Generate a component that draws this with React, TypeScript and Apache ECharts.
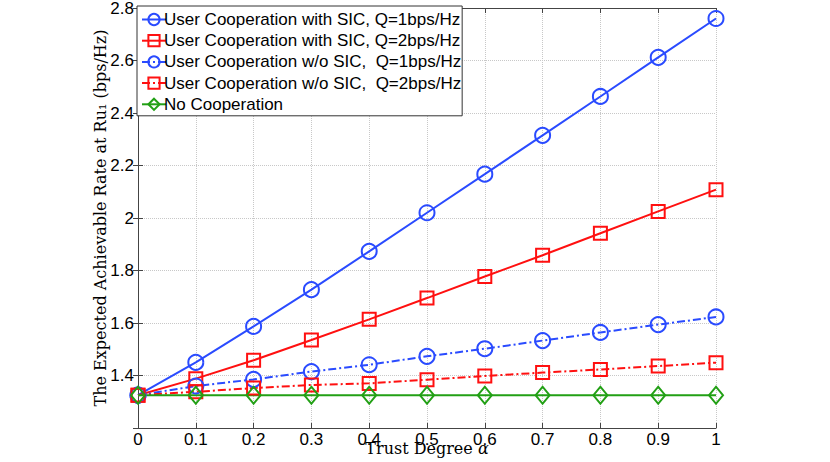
import React, { useEffect, useRef } from "react";
import * as echarts from "echarts";

const alphas = [0, 0.1, 0.2, 0.3, 0.4, 0.5, 0.6, 0.7, 0.8, 0.9, 1];
const sicQ1 = [1.325, 1.45, 1.587, 1.727, 1.873, 2.02, 2.167, 2.315, 2.463, 2.612, 2.76];
const sicQ2 = [1.325, 1.388, 1.458, 1.535, 1.614, 1.695, 1.777, 1.858, 1.942, 2.025, 2.108];
const noSicQ1 = [1.325, 1.36, 1.385, 1.415, 1.441, 1.473, 1.502, 1.533, 1.564, 1.594, 1.623];
const noSicQ2 = [1.325, 1.338, 1.352, 1.364, 1.37, 1.384, 1.398, 1.411, 1.423, 1.436, 1.449];
const noCoop = [1.325, 1.325, 1.325, 1.325, 1.325, 1.325, 1.325, 1.325, 1.325, 1.325, 1.325];

const names = [
  "User Cooperation with SIC, Q=1bps/Hz",
  "User Cooperation with SIC, Q=2bps/Hz",
  "User Cooperation w/o SIC,  Q=1bps/Hz",
  "User Cooperation w/o SIC,  Q=2bps/Hz",
  "No Cooperation",
];

const BLUE = "#2a4bff";
const RED = "#ff1010";
const GREEN = "#22a015";

export default function App() {
  const ref = useRef<HTMLDivElement>(null);
  useEffect(() => {
    if (!ref.current) return;
    const chart = echarts.init(ref.current, undefined, { renderer: "svg" });
    const pts = (ys: number[]) => alphas.map((a, i) => [a, ys[i]]);
    const dashDot = [8, 3, 2, 3];
    const mk = (name: string, ys: number[], color: string, symbol: string, size: number | number[], dashed: boolean) => ({
      name,
      type: "line",
      data: pts(ys),
      symbol,
      symbolSize: size,
      showAllSymbol: true,
      lineStyle: { color, width: 2, type: dashed ? dashDot : "solid" },
      itemStyle: { color: "rgba(0,0,0,0)", borderColor: color, borderWidth: 2 },
      emphasis: { disabled: true },
    });
    const axisLineStyle = { color: "#444", width: 1 };
    chart.setOption({
      animation: false,
      grid: { left: 138, right: 114, top: 8, bottom: 34, containLabel: false, outerBoundsMode: "none" },
      legend: {
        orient: "vertical",
        left: 137,
        top: 6,
        backgroundColor: "#fff",
        borderColor: "#333",
        borderWidth: 1,
        borderRadius: 0,
        padding: [5, 1, 3, 4],
        itemWidth: 24,
        itemHeight: 14,
        itemGap: 4.2,
        textStyle: { fontFamily: "Liberation Sans", fontSize: 17, lineHeight: 14, color: "#000", padding: [0, 0, 0, -7] },
        data: names,
      },
      xAxis: [
        {
          type: "value",
          min: 0,
          max: 1,
          interval: 0.1,
          name: "{t|Trust Degree }{a|α}",
          nameLocation: "middle",
          nameGap: 12,
          nameMoveOverlap: false,
          nameTextStyle: {
            rich: {
              t: { fontFamily: "DejaVu Serif", fontSize: 16, color: "#000" },
              a: { fontFamily: "DejaVu Serif", fontSize: 16, fontStyle: "italic", color: "#000" },
            },
          },
          axisLine: { lineStyle: axisLineStyle },
          axisTick: { inside: true, length: 5, lineStyle: axisLineStyle },
          axisLabel: { fontFamily: "Liberation Sans", fontSize: 17, color: "#000", margin: 3 },
          splitLine: { show: true, lineStyle: { type: "dotted", color: "#c8c8c8" } },
        },
        {
          type: "value",
          position: "top",
          min: 0,
          max: 1,
          interval: 0.1,
          axisLine: { show: true, lineStyle: axisLineStyle },
          axisTick: { show: true, inside: true, length: 5, lineStyle: axisLineStyle },
          axisLabel: { show: false },
          splitLine: { show: false },
        },
      ],
      yAxis: [
        {
          type: "value",
          min: 1.2,
          max: 2.8,
          interval: 0.2,
          name: "The Expected Achievable Rate at Ru₁ (bps/Hz)",
          nameLocation: "middle",
          nameGap: 30,
          nameMoveOverlap: false,
          nameTextStyle: { fontFamily: "DejaVu Serif", fontSize: 16, color: "#000" },
          axisLine: { lineStyle: axisLineStyle },
          axisTick: { inside: true, length: 5, lineStyle: axisLineStyle },
          axisLabel: {
            fontFamily: "Liberation Sans",
            fontSize: 17,
            lineHeight: 16,
            color: "#000",
            margin: 4,
            formatter: (v: number) => (Math.abs(v - 1.2) < 1e-9 ? "" : String(Math.round(v * 10) / 10)),
          },
          splitLine: { show: true, lineStyle: { type: "dotted", color: "#c8c8c8" } },
        },
        {
          type: "value",
          position: "right",
          min: 1.2,
          max: 2.8,
          interval: 0.2,
          axisLine: { show: true, lineStyle: axisLineStyle },
          axisTick: { show: true, inside: true, length: 5, lineStyle: axisLineStyle },
          axisLabel: { show: false },
          splitLine: { show: false },
        },
      ],
      series: [
        mk(names[0], sicQ1, BLUE, "circle", 15, false),
        mk(names[1], sicQ2, RED, "rect", 13, false),
        mk(names[2], noSicQ1, BLUE, "circle", 15, true),
        mk(names[3], noSicQ2, RED, "rect", 13, true),
        mk(names[4], noCoop, GREEN, "diamond", [14, 17], false),
      ],
    });
    return () => chart.dispose();
  }, []);
  return <div ref={ref} style={{ width: 830, height: 462, position: "absolute", left: 0, top: 0, background: "#fff" }} />;
}
